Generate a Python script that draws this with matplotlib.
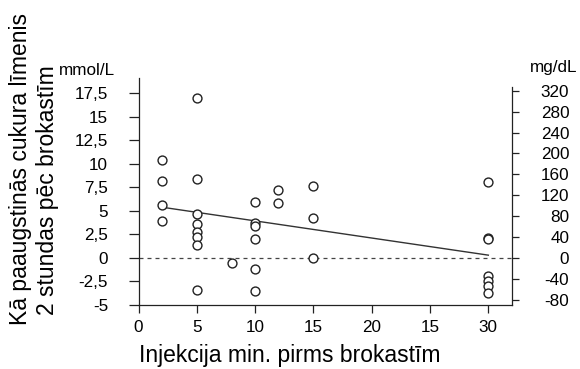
import matplotlib
matplotlib.use("Agg")
import matplotlib.pyplot as plt
import numpy as np

plt.rcParams['font.family'] = ['Liberation Sans', 'DejaVu Sans']

# Minutes between insulin injection and breakfast, and the change in
# blood glucose (mmol/L) measured 2 hours after the meal
minutes = [2, 2, 2, 2,
           5, 5, 5, 5, 5, 5, 5, 5,
           8,
           10, 10, 10, 10, 10, 10,
           12, 12,
           15, 15, 15,
           30, 30, 30, 30, 30, 30, 30]
glucose_rise = [10.4, 8.2, 5.6, 3.95,
                17.0, 8.4, 4.65, 3.6, 2.8, 2.2, 1.4, -3.4,
                -0.55,
                5.9, 3.7, 3.4, 2.0, -1.2, -3.5,
                7.2, 5.8,
                7.65, 4.25, 0.05,
                8.05, 2.15, 2.0, -1.9, -2.4, -3.0, -3.75]

# Fitted trend line end points
trend_x = [2, 30]
trend_y = [5.4, 0.3]

x_ticks = [0, 5, 10, 15, 20, 25, 30]
x_tick_labels = ["0", "5", "10", "15", "20", "15", "30"]
mmol_ticks = [-5, -2.5, 0, 2.5, 5, 7.5, 10, 12.5, 15, 17.5]
mgdl_ticks = [-80, -40, 0, 40, 80, 120, 160, 200, 240, 280, 320]
MGDL_PER_MMOL = 18.0

fig = plt.figure(figsize=(5.8, 3.69), dpi=100)
ax = fig.add_axes([0.2388, 0.1734, 0.6434, 0.6144])

ylo, yhi = -5, 19.1
ax.set_xlim(0, 32)
ax.set_ylim(ylo, yhi)

ink = "#222222"
ax.axhline(0, color="#444444", lw=0.9, ls=(0, (3.2, 3.2)), zorder=1)
ax.plot(trend_x, trend_y, color="#333333", lw=1.0, zorder=2)
ax.plot(minutes, glucose_rise, ls="none", marker="o", ms=6.4,
        mfc="white", mec=ink, mew=1.0, zorder=3)

for side in ("top", "right"):
    ax.spines[side].set_visible(False)
for side in ("left", "bottom"):
    ax.spines[side].set_color(ink)
    ax.spines[side].set_linewidth(0.9)

ax.set_xticks(x_ticks)
ax.set_xticklabels(x_tick_labels)
ax.set_yticks(mmol_ticks)
ax.set_yticklabels([f"{v:g}".replace(".", ",") for v in mmol_ticks])
ax.tick_params(axis="x", direction="out", length=6, width=0.9,
               color=ink, pad=5, labelsize=12.3)
ax.tick_params(axis="y", direction="out", length=7.5, width=0.9,
               color=ink, pad=14.5, labelsize=12.3)

# Secondary scale in mg/dL
ax2 = ax.twinx()
ax2.set_ylim(ylo * MGDL_PER_MMOL, yhi * MGDL_PER_MMOL)
for side in ("top", "left", "bottom"):
    ax2.spines[side].set_visible(False)
ax2.spines["right"].set_bounds(ylo * MGDL_PER_MMOL, 18.2 * MGDL_PER_MMOL)
ax2.spines["right"].set_color(ink)
ax2.spines["right"].set_linewidth(0.9)
ax2.set_yticks(mgdl_ticks)
ax2.set_yticklabels([str(v) for v in mgdl_ticks], ha="right")
ax2.tick_params(axis="y", direction="out", length=5, width=0.9,
                color=ink, pad=36.5, labelsize=12.3)

W, H = 580, 369
fig.text(115 / W, (H - 75) / H, "mmol/L", ha="right", va="baseline",
         fontsize=12.3)
fig.text(577 / W, (H - 72) / H, "mg/dL", ha="right", va="baseline",
         fontsize=12.3)

fig.text(21 / W, (H - 169) / H, "Kā paaugstinās cukura līmenis",
         rotation=90, ha="center", va="center", fontsize=16.5)
fig.text(48 / W, (H - 190) / H, "2 stundas pēc brokastīm",
         rotation=90, ha="center", va="center", fontsize=16.5)
fig.text(290 / W, (H - 361.7) / H, "Injekcija min. pirms brokastīm",
         ha="center", va="baseline", fontsize=16.5)

fig.savefig("out.png", dpi=100, facecolor="white")
